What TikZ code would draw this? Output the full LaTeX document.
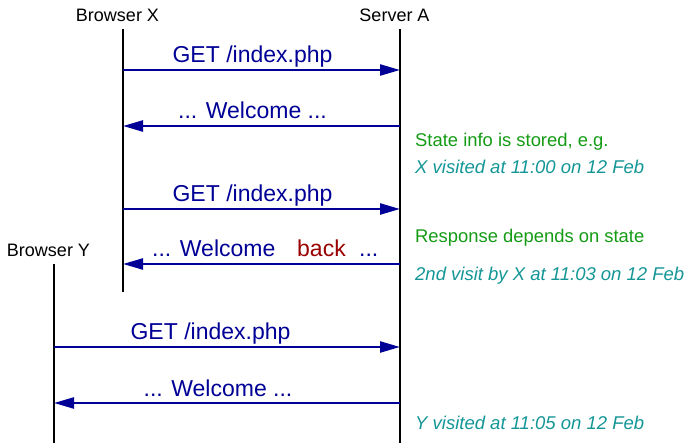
\documentclass[tikz,border=0pt]{standalone}
\usepackage{fontspec}
\setmainfont{Liberation Sans}
\usetikzlibrary{arrows.meta}
\definecolor{msgblue}{RGB}{0,0,150}
\definecolor{stgreen}{RGB}{20,155,20}
\definecolor{stteal}{RGB}{20,150,150}
\definecolor{backred}{RGB}{153,0,0}
\tikzset{
  lifeline/.style={line width=2.2pt,black},
  msg/.style={line width=2.4pt,msgblue,-{Triangle[length=20pt,width=11pt]}},
  msglabel/.style={anchor=base,inner sep=0pt,text=msgblue,font=\fontsize{23}{25}\selectfont},
  head/.style={anchor=base,inner sep=0pt,font=\fontsize{18}{20}\selectfont},
  note/.style={anchor=base west,inner sep=0pt,text=stgreen,font=\fontsize{18.4}{20}\selectfont},
  ex/.style={anchor=base west,inner sep=0pt,text=stteal,font=\fontsize{18.5}{20}\itshape},
}
\begin{document}
\begin{tikzpicture}[x=1pt,y=-1pt]
\useasboundingbox (0,0) rectangle (688,443);
% heads
\node[head] (bx) at (117.5,22) {Browser X};
\node[head] (sa) at (394.5,22) {Server A};
\node[head] (by) at (48.5,257) {Browser Y};
% lifelines
\coordinate (bxT) at (123,29); \coordinate (bxB) at (123,292);
\coordinate (saT) at (400,29); \coordinate (saB) at (400,443);
\coordinate (byT) at (54,264); \coordinate (byB) at (54,443);
\draw[lifeline] (bxT) -- (bxB);
\draw[lifeline] (saT) -- (saB);
\draw[lifeline] (byT) -- (byB);
% message end points
\coordinate (x1) at (123,70);  \coordinate (s1) at (400,70);
\coordinate (x2) at (123,126); \coordinate (s2) at (400,126);
\coordinate (x3) at (123,209); \coordinate (s3) at (400,209);
\coordinate (x4) at (123,264); \coordinate (s4) at (400,264);
\coordinate (y5) at (54,347);  \coordinate (s5) at (400,347);
\coordinate (y6) at (54,403);  \coordinate (s6) at (400,403);
\draw[msg] (x1) -- (s1);
\draw[msg] (s2) -- (x2);
\draw[msg] (x3) -- (s3);
\draw[msg] (s4) -- (x4);
\draw[msg] (y5) -- (s5);
\draw[msg] (s6) -- (y6);
% message labels
\node[msglabel] (l1) at (252.5,63) {GET /index.php};
\node[msglabel] (l2) at (252.5,119) {... Welcome ...};
\node[msglabel] (l3) at (252.5,202) {GET /index.php};
\node[msglabel,anchor=base west] (l4a) at (152,257) {... Welcome};
\node[msglabel,anchor=base west,text=backred] (l4b) at (297,257) {back};
\node[msglabel,anchor=base west] (l4c) at (359,257) {...};
\node[msglabel] (l5) at (210.5,340) {GET /index.php};
\node[msglabel] (l6) at (218,396) {... Welcome ...};
% notes
\node[note] (n1) at (415,147) {State info is stored, e.g.};
\node[ex] (e1) at (415,174) {X visited at 11:00 on 12 Feb};
\node[note] (n2) at (415,243) {Response depends on state};
\node[ex] (e2) at (415,281) {2nd visit by X at 11:03 on 12 Feb};
\node[ex] (e3) at (415,429) {Y visited at 11:05 on 12 Feb};
\end{tikzpicture}
\end{document}
